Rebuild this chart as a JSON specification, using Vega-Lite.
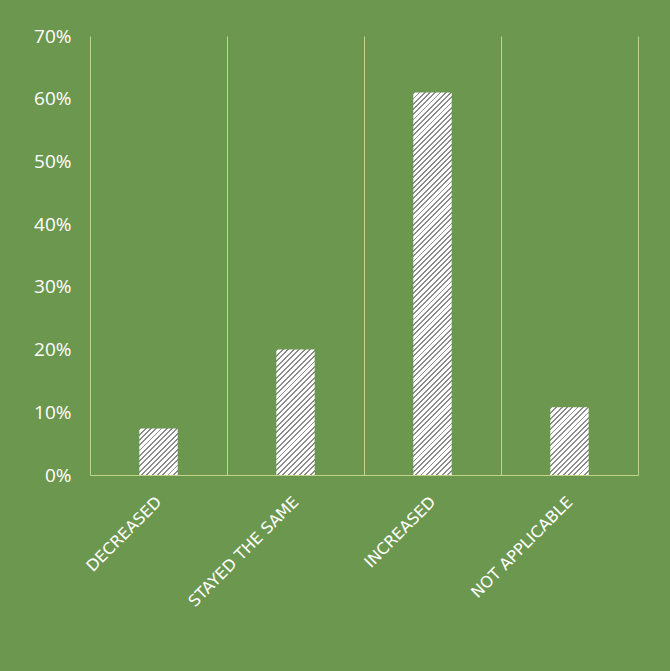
{
  "$schema": "https://vega.github.io/schema/vega-lite/v6.json",
  "width": 548,
  "height": 439,
  "autosize": {"type": "none"},
  "padding": {"left": 90, "top": 36, "right": 32, "bottom": 196},
  "background": "#6c974f",
  "config": {"view": {"stroke": null}, "font": "Open Sans"},
  "data": {
    "values": [
      {"answer": "DECREASED", "share": 0.074},
      {"answer": "STAYED THE SAME", "share": 0.2},
      {"answer": "INCREASED", "share": 0.61},
      {"answer": "NOT APPLICABLE", "share": 0.108}
    ]
  },
  "encoding": {
    "x": {
      "field": "answer",
      "type": "nominal",
      "scale": {
        "domain": ["DECREASED", "STAYED THE SAME", "INCREASED", "NOT APPLICABLE"],
        "paddingInner": 0,
        "paddingOuter": 0
      },
      "axis": {
        "title": null,
        "grid": true,
        "tickBand": "extent",
        "gridColor": "#c3d48a",
        "gridWidth": 1,
        "domainColor": "#c3d48a",
        "domainWidth": 1,
        "ticks": false,
        "labelAngle": -45,
        "labelAlign": "right",
        "labelBaseline": "middle",
        "labelPadding": 24,
        "labelColor": "#ffffff",
        "labelFont": "DejaVu Sans",
        "labelFontSize": 16,
        "labelFontWeight": "normal",
        "labelLimit": 0
      }
    },
    "y": {
      "field": "share",
      "type": "quantitative",
      "scale": {"domain": [0, 0.7]},
      "axis": {
        "title": null,
        "values": [0, 0.1, 0.2, 0.3, 0.4, 0.5, 0.6, 0.7],
        "format": ".0%",
        "grid": false,
        "domain": false,
        "ticks": false,
        "labelFlush": false,
        "labelColor": "#ffffff",
        "labelFont": "Open Sans",
        "labelFontSize": 19,
        "labelPadding": 19
      }
    }
  },
  "layer": [
    {
      "transform": [{"filter": "datum.answer === 'DECREASED'"}],
      "mark": {
        "type": "bar",
        "width": {"band": 0.28},
        "fill": {
          "gradient": "linear", "x1": 0, "y1": 0, "x2": 0.897, "y2": 1.0852,
          "stops": [
            {"offset": 0, "color": "#8c8c8c"}, {"offset": 0.0219, "color": "#8c8c8c"}, {"offset": 0.0219, "color": "#fff"}, {"offset": 0.0625, "color": "#fff"},
            {"offset": 0.0625, "color": "#8c8c8c"}, {"offset": 0.0844, "color": "#8c8c8c"}, {"offset": 0.0844, "color": "#fff"}, {"offset": 0.125, "color": "#fff"},
            {"offset": 0.125, "color": "#8c8c8c"}, {"offset": 0.1469, "color": "#8c8c8c"}, {"offset": 0.1469, "color": "#fff"}, {"offset": 0.1875, "color": "#fff"},
            {"offset": 0.1875, "color": "#8c8c8c"}, {"offset": 0.2094, "color": "#8c8c8c"}, {"offset": 0.2094, "color": "#fff"}, {"offset": 0.25, "color": "#fff"},
            {"offset": 0.25, "color": "#8c8c8c"}, {"offset": 0.2719, "color": "#8c8c8c"}, {"offset": 0.2719, "color": "#fff"}, {"offset": 0.3125, "color": "#fff"},
            {"offset": 0.3125, "color": "#8c8c8c"}, {"offset": 0.3344, "color": "#8c8c8c"}, {"offset": 0.3344, "color": "#fff"}, {"offset": 0.375, "color": "#fff"},
            {"offset": 0.375, "color": "#8c8c8c"}, {"offset": 0.3969, "color": "#8c8c8c"}, {"offset": 0.3969, "color": "#fff"}, {"offset": 0.4375, "color": "#fff"},
            {"offset": 0.4375, "color": "#8c8c8c"}, {"offset": 0.4594, "color": "#8c8c8c"}, {"offset": 0.4594, "color": "#fff"}, {"offset": 0.5, "color": "#fff"},
            {"offset": 0.5, "color": "#8c8c8c"}, {"offset": 0.5219, "color": "#8c8c8c"}, {"offset": 0.5219, "color": "#fff"}, {"offset": 0.5625, "color": "#fff"},
            {"offset": 0.5625, "color": "#8c8c8c"}, {"offset": 0.5844, "color": "#8c8c8c"}, {"offset": 0.5844, "color": "#fff"}, {"offset": 0.625, "color": "#fff"},
            {"offset": 0.625, "color": "#8c8c8c"}, {"offset": 0.6469, "color": "#8c8c8c"}, {"offset": 0.6469, "color": "#fff"}, {"offset": 0.6875, "color": "#fff"},
            {"offset": 0.6875, "color": "#8c8c8c"}, {"offset": 0.7094, "color": "#8c8c8c"}, {"offset": 0.7094, "color": "#fff"}, {"offset": 0.75, "color": "#fff"},
            {"offset": 0.75, "color": "#8c8c8c"}, {"offset": 0.7719, "color": "#8c8c8c"}, {"offset": 0.7719, "color": "#fff"}, {"offset": 0.8125, "color": "#fff"},
            {"offset": 0.8125, "color": "#8c8c8c"}, {"offset": 0.8344, "color": "#8c8c8c"}, {"offset": 0.8344, "color": "#fff"}, {"offset": 0.875, "color": "#fff"},
            {"offset": 0.875, "color": "#8c8c8c"}, {"offset": 0.8969, "color": "#8c8c8c"}, {"offset": 0.8969, "color": "#fff"}, {"offset": 0.9375, "color": "#fff"},
            {"offset": 0.9375, "color": "#8c8c8c"}, {"offset": 0.9594, "color": "#8c8c8c"}, {"offset": 0.9594, "color": "#fff"}, {"offset": 1, "color": "#fff"}
          ]
        }
      }
    },
    {
      "transform": [{"filter": "datum.answer === 'STAYED THE SAME'"}],
      "mark": {
        "type": "bar",
        "width": {"band": 0.28},
        "fill": {
          "gradient": "linear", "x1": 0, "y1": 0, "x2": 0.3652, "y2": 1.1941,
          "stops": [
            {"offset": 0, "color": "#8c8c8c"}, {"offset": 0.0117, "color": "#8c8c8c"}, {"offset": 0.0117, "color": "#fff"}, {"offset": 0.0333, "color": "#fff"},
            {"offset": 0.0333, "color": "#8c8c8c"}, {"offset": 0.045, "color": "#8c8c8c"}, {"offset": 0.045, "color": "#fff"}, {"offset": 0.0667, "color": "#fff"},
            {"offset": 0.0667, "color": "#8c8c8c"}, {"offset": 0.0783, "color": "#8c8c8c"}, {"offset": 0.0783, "color": "#fff"}, {"offset": 0.1, "color": "#fff"},
            {"offset": 0.1, "color": "#8c8c8c"}, {"offset": 0.1117, "color": "#8c8c8c"}, {"offset": 0.1117, "color": "#fff"}, {"offset": 0.1333, "color": "#fff"},
            {"offset": 0.1333, "color": "#8c8c8c"}, {"offset": 0.145, "color": "#8c8c8c"}, {"offset": 0.145, "color": "#fff"}, {"offset": 0.1667, "color": "#fff"},
            {"offset": 0.1667, "color": "#8c8c8c"}, {"offset": 0.1783, "color": "#8c8c8c"}, {"offset": 0.1783, "color": "#fff"}, {"offset": 0.2, "color": "#fff"},
            {"offset": 0.2, "color": "#8c8c8c"}, {"offset": 0.2117, "color": "#8c8c8c"}, {"offset": 0.2117, "color": "#fff"}, {"offset": 0.2333, "color": "#fff"},
            {"offset": 0.2333, "color": "#8c8c8c"}, {"offset": 0.245, "color": "#8c8c8c"}, {"offset": 0.245, "color": "#fff"}, {"offset": 0.2667, "color": "#fff"},
            {"offset": 0.2667, "color": "#8c8c8c"}, {"offset": 0.2783, "color": "#8c8c8c"}, {"offset": 0.2783, "color": "#fff"}, {"offset": 0.3, "color": "#fff"},
            {"offset": 0.3, "color": "#8c8c8c"}, {"offset": 0.3117, "color": "#8c8c8c"}, {"offset": 0.3117, "color": "#fff"}, {"offset": 0.3333, "color": "#fff"},
            {"offset": 0.3333, "color": "#8c8c8c"}, {"offset": 0.345, "color": "#8c8c8c"}, {"offset": 0.345, "color": "#fff"}, {"offset": 0.3667, "color": "#fff"},
            {"offset": 0.3667, "color": "#8c8c8c"}, {"offset": 0.3783, "color": "#8c8c8c"}, {"offset": 0.3783, "color": "#fff"}, {"offset": 0.4, "color": "#fff"},
            {"offset": 0.4, "color": "#8c8c8c"}, {"offset": 0.4117, "color": "#8c8c8c"}, {"offset": 0.4117, "color": "#fff"}, {"offset": 0.4333, "color": "#fff"},
            {"offset": 0.4333, "color": "#8c8c8c"}, {"offset": 0.445, "color": "#8c8c8c"}, {"offset": 0.445, "color": "#fff"}, {"offset": 0.4667, "color": "#fff"},
            {"offset": 0.4667, "color": "#8c8c8c"}, {"offset": 0.4783, "color": "#8c8c8c"}, {"offset": 0.4783, "color": "#fff"}, {"offset": 0.5, "color": "#fff"},
            {"offset": 0.5, "color": "#8c8c8c"}, {"offset": 0.5117, "color": "#8c8c8c"}, {"offset": 0.5117, "color": "#fff"}, {"offset": 0.5333, "color": "#fff"},
            {"offset": 0.5333, "color": "#8c8c8c"}, {"offset": 0.545, "color": "#8c8c8c"}, {"offset": 0.545, "color": "#fff"}, {"offset": 0.5667, "color": "#fff"},
            {"offset": 0.5667, "color": "#8c8c8c"}, {"offset": 0.5783, "color": "#8c8c8c"}, {"offset": 0.5783, "color": "#fff"}, {"offset": 0.6, "color": "#fff"},
            {"offset": 0.6, "color": "#8c8c8c"}, {"offset": 0.6117, "color": "#8c8c8c"}, {"offset": 0.6117, "color": "#fff"}, {"offset": 0.6333, "color": "#fff"},
            {"offset": 0.6333, "color": "#8c8c8c"}, {"offset": 0.645, "color": "#8c8c8c"}, {"offset": 0.645, "color": "#fff"}, {"offset": 0.6667, "color": "#fff"},
            {"offset": 0.6667, "color": "#8c8c8c"}, {"offset": 0.6783, "color": "#8c8c8c"}, {"offset": 0.6783, "color": "#fff"}, {"offset": 0.7, "color": "#fff"},
            {"offset": 0.7, "color": "#8c8c8c"}, {"offset": 0.7117, "color": "#8c8c8c"}, {"offset": 0.7117, "color": "#fff"}, {"offset": 0.7333, "color": "#fff"},
            {"offset": 0.7333, "color": "#8c8c8c"}, {"offset": 0.745, "color": "#8c8c8c"}, {"offset": 0.745, "color": "#fff"}, {"offset": 0.7667, "color": "#fff"},
            {"offset": 0.7667, "color": "#8c8c8c"}, {"offset": 0.7783, "color": "#8c8c8c"}, {"offset": 0.7783, "color": "#fff"}, {"offset": 0.8, "color": "#fff"},
            {"offset": 0.8, "color": "#8c8c8c"}, {"offset": 0.8117, "color": "#8c8c8c"}, {"offset": 0.8117, "color": "#fff"}, {"offset": 0.8333, "color": "#fff"},
            {"offset": 0.8333, "color": "#8c8c8c"}, {"offset": 0.845, "color": "#8c8c8c"}, {"offset": 0.845, "color": "#fff"}, {"offset": 0.8667, "color": "#fff"},
            {"offset": 0.8667, "color": "#8c8c8c"}, {"offset": 0.8783, "color": "#8c8c8c"}, {"offset": 0.8783, "color": "#fff"}, {"offset": 0.9, "color": "#fff"},
            {"offset": 0.9, "color": "#8c8c8c"}, {"offset": 0.9117, "color": "#8c8c8c"}, {"offset": 0.9117, "color": "#fff"}, {"offset": 0.9333, "color": "#fff"},
            {"offset": 0.9333, "color": "#8c8c8c"}, {"offset": 0.945, "color": "#8c8c8c"}, {"offset": 0.945, "color": "#fff"}, {"offset": 0.9667, "color": "#fff"},
            {"offset": 0.9667, "color": "#8c8c8c"}, {"offset": 0.9783, "color": "#8c8c8c"}, {"offset": 0.9783, "color": "#fff"}, {"offset": 1, "color": "#fff"}
          ]
        }
      }
    },
    {
      "transform": [{"filter": "datum.answer === 'INCREASED'"}],
      "mark": {
        "type": "bar",
        "width": {"band": 0.28},
        "fill": {
          "gradient": "linear", "x1": 0, "y1": 0, "x2": 0.10923, "y2": 1.08933,
          "stops": [
            {"offset": 0, "color": "#8c8c8c"}, {"offset": 0.0044, "color": "#8c8c8c"}, {"offset": 0.0044, "color": "#fff"}, {"offset": 0.0125, "color": "#fff"},
            {"offset": 0.0125, "color": "#8c8c8c"}, {"offset": 0.0169, "color": "#8c8c8c"}, {"offset": 0.0169, "color": "#fff"}, {"offset": 0.025, "color": "#fff"},
            {"offset": 0.025, "color": "#8c8c8c"}, {"offset": 0.0294, "color": "#8c8c8c"}, {"offset": 0.0294, "color": "#fff"}, {"offset": 0.0375, "color": "#fff"},
            {"offset": 0.0375, "color": "#8c8c8c"}, {"offset": 0.0419, "color": "#8c8c8c"}, {"offset": 0.0419, "color": "#fff"}, {"offset": 0.05, "color": "#fff"},
            {"offset": 0.05, "color": "#8c8c8c"}, {"offset": 0.0544, "color": "#8c8c8c"}, {"offset": 0.0544, "color": "#fff"}, {"offset": 0.0625, "color": "#fff"},
            {"offset": 0.0625, "color": "#8c8c8c"}, {"offset": 0.0669, "color": "#8c8c8c"}, {"offset": 0.0669, "color": "#fff"}, {"offset": 0.075, "color": "#fff"},
            {"offset": 0.075, "color": "#8c8c8c"}, {"offset": 0.0794, "color": "#8c8c8c"}, {"offset": 0.0794, "color": "#fff"}, {"offset": 0.0875, "color": "#fff"},
            {"offset": 0.0875, "color": "#8c8c8c"}, {"offset": 0.0919, "color": "#8c8c8c"}, {"offset": 0.0919, "color": "#fff"}, {"offset": 0.1, "color": "#fff"},
            {"offset": 0.1, "color": "#8c8c8c"}, {"offset": 0.1044, "color": "#8c8c8c"}, {"offset": 0.1044, "color": "#fff"}, {"offset": 0.1125, "color": "#fff"},
            {"offset": 0.1125, "color": "#8c8c8c"}, {"offset": 0.1169, "color": "#8c8c8c"}, {"offset": 0.1169, "color": "#fff"}, {"offset": 0.125, "color": "#fff"},
            {"offset": 0.125, "color": "#8c8c8c"}, {"offset": 0.1294, "color": "#8c8c8c"}, {"offset": 0.1294, "color": "#fff"}, {"offset": 0.1375, "color": "#fff"},
            {"offset": 0.1375, "color": "#8c8c8c"}, {"offset": 0.1419, "color": "#8c8c8c"}, {"offset": 0.1419, "color": "#fff"}, {"offset": 0.15, "color": "#fff"},
            {"offset": 0.15, "color": "#8c8c8c"}, {"offset": 0.1544, "color": "#8c8c8c"}, {"offset": 0.1544, "color": "#fff"}, {"offset": 0.1625, "color": "#fff"},
            {"offset": 0.1625, "color": "#8c8c8c"}, {"offset": 0.1669, "color": "#8c8c8c"}, {"offset": 0.1669, "color": "#fff"}, {"offset": 0.175, "color": "#fff"},
            {"offset": 0.175, "color": "#8c8c8c"}, {"offset": 0.1794, "color": "#8c8c8c"}, {"offset": 0.1794, "color": "#fff"}, {"offset": 0.1875, "color": "#fff"},
            {"offset": 0.1875, "color": "#8c8c8c"}, {"offset": 0.1919, "color": "#8c8c8c"}, {"offset": 0.1919, "color": "#fff"}, {"offset": 0.2, "color": "#fff"},
            {"offset": 0.2, "color": "#8c8c8c"}, {"offset": 0.2044, "color": "#8c8c8c"}, {"offset": 0.2044, "color": "#fff"}, {"offset": 0.2125, "color": "#fff"},
            {"offset": 0.2125, "color": "#8c8c8c"}, {"offset": 0.2169, "color": "#8c8c8c"}, {"offset": 0.2169, "color": "#fff"}, {"offset": 0.225, "color": "#fff"},
            {"offset": 0.225, "color": "#8c8c8c"}, {"offset": 0.2294, "color": "#8c8c8c"}, {"offset": 0.2294, "color": "#fff"}, {"offset": 0.2375, "color": "#fff"},
            {"offset": 0.2375, "color": "#8c8c8c"}, {"offset": 0.2419, "color": "#8c8c8c"}, {"offset": 0.2419, "color": "#fff"}, {"offset": 0.25, "color": "#fff"},
            {"offset": 0.25, "color": "#8c8c8c"}, {"offset": 0.2544, "color": "#8c8c8c"}, {"offset": 0.2544, "color": "#fff"}, {"offset": 0.2625, "color": "#fff"},
            {"offset": 0.2625, "color": "#8c8c8c"}, {"offset": 0.2669, "color": "#8c8c8c"}, {"offset": 0.2669, "color": "#fff"}, {"offset": 0.275, "color": "#fff"},
            {"offset": 0.275, "color": "#8c8c8c"}, {"offset": 0.2794, "color": "#8c8c8c"}, {"offset": 0.2794, "color": "#fff"}, {"offset": 0.2875, "color": "#fff"},
            {"offset": 0.2875, "color": "#8c8c8c"}, {"offset": 0.2919, "color": "#8c8c8c"}, {"offset": 0.2919, "color": "#fff"}, {"offset": 0.3, "color": "#fff"},
            {"offset": 0.3, "color": "#8c8c8c"}, {"offset": 0.3044, "color": "#8c8c8c"}, {"offset": 0.3044, "color": "#fff"}, {"offset": 0.3125, "color": "#fff"},
            {"offset": 0.3125, "color": "#8c8c8c"}, {"offset": 0.3169, "color": "#8c8c8c"}, {"offset": 0.3169, "color": "#fff"}, {"offset": 0.325, "color": "#fff"},
            {"offset": 0.325, "color": "#8c8c8c"}, {"offset": 0.3294, "color": "#8c8c8c"}, {"offset": 0.3294, "color": "#fff"}, {"offset": 0.3375, "color": "#fff"},
            {"offset": 0.3375, "color": "#8c8c8c"}, {"offset": 0.3419, "color": "#8c8c8c"}, {"offset": 0.3419, "color": "#fff"}, {"offset": 0.35, "color": "#fff"},
            {"offset": 0.35, "color": "#8c8c8c"}, {"offset": 0.3544, "color": "#8c8c8c"}, {"offset": 0.3544, "color": "#fff"}, {"offset": 0.3625, "color": "#fff"},
            {"offset": 0.3625, "color": "#8c8c8c"}, {"offset": 0.3669, "color": "#8c8c8c"}, {"offset": 0.3669, "color": "#fff"}, {"offset": 0.375, "color": "#fff"},
            {"offset": 0.375, "color": "#8c8c8c"}, {"offset": 0.3794, "color": "#8c8c8c"}, {"offset": 0.3794, "color": "#fff"}, {"offset": 0.3875, "color": "#fff"},
            {"offset": 0.3875, "color": "#8c8c8c"}, {"offset": 0.3919, "color": "#8c8c8c"}, {"offset": 0.3919, "color": "#fff"}, {"offset": 0.4, "color": "#fff"},
            {"offset": 0.4, "color": "#8c8c8c"}, {"offset": 0.4044, "color": "#8c8c8c"}, {"offset": 0.4044, "color": "#fff"}, {"offset": 0.4125, "color": "#fff"},
            {"offset": 0.4125, "color": "#8c8c8c"}, {"offset": 0.4169, "color": "#8c8c8c"}, {"offset": 0.4169, "color": "#fff"}, {"offset": 0.425, "color": "#fff"},
            {"offset": 0.425, "color": "#8c8c8c"}, {"offset": 0.4294, "color": "#8c8c8c"}, {"offset": 0.4294, "color": "#fff"}, {"offset": 0.4375, "color": "#fff"},
            {"offset": 0.4375, "color": "#8c8c8c"}, {"offset": 0.4419, "color": "#8c8c8c"}, {"offset": 0.4419, "color": "#fff"}, {"offset": 0.45, "color": "#fff"},
            {"offset": 0.45, "color": "#8c8c8c"}, {"offset": 0.4544, "color": "#8c8c8c"}, {"offset": 0.4544, "color": "#fff"}, {"offset": 0.4625, "color": "#fff"},
            {"offset": 0.4625, "color": "#8c8c8c"}, {"offset": 0.4669, "color": "#8c8c8c"}, {"offset": 0.4669, "color": "#fff"}, {"offset": 0.475, "color": "#fff"},
            {"offset": 0.475, "color": "#8c8c8c"}, {"offset": 0.4794, "color": "#8c8c8c"}, {"offset": 0.4794, "color": "#fff"}, {"offset": 0.4875, "color": "#fff"},
            {"offset": 0.4875, "color": "#8c8c8c"}, {"offset": 0.4919, "color": "#8c8c8c"}, {"offset": 0.4919, "color": "#fff"}, {"offset": 0.5, "color": "#fff"},
            {"offset": 0.5, "color": "#8c8c8c"}, {"offset": 0.5044, "color": "#8c8c8c"}, {"offset": 0.5044, "color": "#fff"}, {"offset": 0.5125, "color": "#fff"},
            {"offset": 0.5125, "color": "#8c8c8c"}, {"offset": 0.5169, "color": "#8c8c8c"}, {"offset": 0.5169, "color": "#fff"}, {"offset": 0.525, "color": "#fff"},
            {"offset": 0.525, "color": "#8c8c8c"}, {"offset": 0.5294, "color": "#8c8c8c"}, {"offset": 0.5294, "color": "#fff"}, {"offset": 0.5375, "color": "#fff"},
            {"offset": 0.5375, "color": "#8c8c8c"}, {"offset": 0.5419, "color": "#8c8c8c"}, {"offset": 0.5419, "color": "#fff"}, {"offset": 0.55, "color": "#fff"},
            {"offset": 0.55, "color": "#8c8c8c"}, {"offset": 0.5544, "color": "#8c8c8c"}, {"offset": 0.5544, "color": "#fff"}, {"offset": 0.5625, "color": "#fff"},
            {"offset": 0.5625, "color": "#8c8c8c"}, {"offset": 0.5669, "color": "#8c8c8c"}, {"offset": 0.5669, "color": "#fff"}, {"offset": 0.575, "color": "#fff"},
            {"offset": 0.575, "color": "#8c8c8c"}, {"offset": 0.5794, "color": "#8c8c8c"}, {"offset": 0.5794, "color": "#fff"}, {"offset": 0.5875, "color": "#fff"},
            {"offset": 0.5875, "color": "#8c8c8c"}, {"offset": 0.5919, "color": "#8c8c8c"}, {"offset": 0.5919, "color": "#fff"}, {"offset": 0.6, "color": "#fff"},
            {"offset": 0.6, "color": "#8c8c8c"}, {"offset": 0.6044, "color": "#8c8c8c"}, {"offset": 0.6044, "color": "#fff"}, {"offset": 0.6125, "color": "#fff"},
            {"offset": 0.6125, "color": "#8c8c8c"}, {"offset": 0.6169, "color": "#8c8c8c"}, {"offset": 0.6169, "color": "#fff"}, {"offset": 0.625, "color": "#fff"},
            {"offset": 0.625, "color": "#8c8c8c"}, {"offset": 0.6294, "color": "#8c8c8c"}, {"offset": 0.6294, "color": "#fff"}, {"offset": 0.6375, "color": "#fff"},
            {"offset": 0.6375, "color": "#8c8c8c"}, {"offset": 0.6419, "color": "#8c8c8c"}, {"offset": 0.6419, "color": "#fff"}, {"offset": 0.65, "color": "#fff"},
            {"offset": 0.65, "color": "#8c8c8c"}, {"offset": 0.6544, "color": "#8c8c8c"}, {"offset": 0.6544, "color": "#fff"}, {"offset": 0.6625, "color": "#fff"},
            {"offset": 0.6625, "color": "#8c8c8c"}, {"offset": 0.6669, "color": "#8c8c8c"}, {"offset": 0.6669, "color": "#fff"}, {"offset": 0.675, "color": "#fff"},
            {"offset": 0.675, "color": "#8c8c8c"}, {"offset": 0.6794, "color": "#8c8c8c"}, {"offset": 0.6794, "color": "#fff"}, {"offset": 0.6875, "color": "#fff"},
            {"offset": 0.6875, "color": "#8c8c8c"}, {"offset": 0.6919, "color": "#8c8c8c"}, {"offset": 0.6919, "color": "#fff"}, {"offset": 0.7, "color": "#fff"},
            {"offset": 0.7, "color": "#8c8c8c"}, {"offset": 0.7044, "color": "#8c8c8c"}, {"offset": 0.7044, "color": "#fff"}, {"offset": 0.7125, "color": "#fff"},
            {"offset": 0.7125, "color": "#8c8c8c"}, {"offset": 0.7169, "color": "#8c8c8c"}, {"offset": 0.7169, "color": "#fff"}, {"offset": 0.725, "color": "#fff"},
            {"offset": 0.725, "color": "#8c8c8c"}, {"offset": 0.7294, "color": "#8c8c8c"}, {"offset": 0.7294, "color": "#fff"}, {"offset": 0.7375, "color": "#fff"},
            {"offset": 0.7375, "color": "#8c8c8c"}, {"offset": 0.7419, "color": "#8c8c8c"}, {"offset": 0.7419, "color": "#fff"}, {"offset": 0.75, "color": "#fff"},
            {"offset": 0.75, "color": "#8c8c8c"}, {"offset": 0.7544, "color": "#8c8c8c"}, {"offset": 0.7544, "color": "#fff"}, {"offset": 0.7625, "color": "#fff"},
            {"offset": 0.7625, "color": "#8c8c8c"}, {"offset": 0.7669, "color": "#8c8c8c"}, {"offset": 0.7669, "color": "#fff"}, {"offset": 0.775, "color": "#fff"},
            {"offset": 0.775, "color": "#8c8c8c"}, {"offset": 0.7794, "color": "#8c8c8c"}, {"offset": 0.7794, "color": "#fff"}, {"offset": 0.7875, "color": "#fff"},
            {"offset": 0.7875, "color": "#8c8c8c"}, {"offset": 0.7919, "color": "#8c8c8c"}, {"offset": 0.7919, "color": "#fff"}, {"offset": 0.8, "color": "#fff"},
            {"offset": 0.8, "color": "#8c8c8c"}, {"offset": 0.8044, "color": "#8c8c8c"}, {"offset": 0.8044, "color": "#fff"}, {"offset": 0.8125, "color": "#fff"},
            {"offset": 0.8125, "color": "#8c8c8c"}, {"offset": 0.8169, "color": "#8c8c8c"}, {"offset": 0.8169, "color": "#fff"}, {"offset": 0.825, "color": "#fff"},
            {"offset": 0.825, "color": "#8c8c8c"}, {"offset": 0.8294, "color": "#8c8c8c"}, {"offset": 0.8294, "color": "#fff"}, {"offset": 0.8375, "color": "#fff"},
            {"offset": 0.8375, "color": "#8c8c8c"}, {"offset": 0.8419, "color": "#8c8c8c"}, {"offset": 0.8419, "color": "#fff"}, {"offset": 0.85, "color": "#fff"},
            {"offset": 0.85, "color": "#8c8c8c"}, {"offset": 0.8544, "color": "#8c8c8c"}, {"offset": 0.8544, "color": "#fff"}, {"offset": 0.8625, "color": "#fff"},
            {"offset": 0.8625, "color": "#8c8c8c"}, {"offset": 0.8669, "color": "#8c8c8c"}, {"offset": 0.8669, "color": "#fff"}, {"offset": 0.875, "color": "#fff"},
            {"offset": 0.875, "color": "#8c8c8c"}, {"offset": 0.8794, "color": "#8c8c8c"}, {"offset": 0.8794, "color": "#fff"}, {"offset": 0.8875, "color": "#fff"},
            {"offset": 0.8875, "color": "#8c8c8c"}, {"offset": 0.8919, "color": "#8c8c8c"}, {"offset": 0.8919, "color": "#fff"}, {"offset": 0.9, "color": "#fff"},
            {"offset": 0.9, "color": "#8c8c8c"}, {"offset": 0.9044, "color": "#8c8c8c"}, {"offset": 0.9044, "color": "#fff"}, {"offset": 0.9125, "color": "#fff"},
            {"offset": 0.9125, "color": "#8c8c8c"}, {"offset": 0.9169, "color": "#8c8c8c"}, {"offset": 0.9169, "color": "#fff"}, {"offset": 0.925, "color": "#fff"},
            {"offset": 0.925, "color": "#8c8c8c"}, {"offset": 0.9294, "color": "#8c8c8c"}, {"offset": 0.9294, "color": "#fff"}, {"offset": 0.9375, "color": "#fff"},
            {"offset": 0.9375, "color": "#8c8c8c"}, {"offset": 0.9419, "color": "#8c8c8c"}, {"offset": 0.9419, "color": "#fff"}, {"offset": 0.95, "color": "#fff"},
            {"offset": 0.95, "color": "#8c8c8c"}, {"offset": 0.9544, "color": "#8c8c8c"}, {"offset": 0.9544, "color": "#fff"}, {"offset": 0.9625, "color": "#fff"},
            {"offset": 0.9625, "color": "#8c8c8c"}, {"offset": 0.9669, "color": "#8c8c8c"}, {"offset": 0.9669, "color": "#fff"}, {"offset": 0.975, "color": "#fff"},
            {"offset": 0.975, "color": "#8c8c8c"}, {"offset": 0.9794, "color": "#8c8c8c"}, {"offset": 0.9794, "color": "#fff"}, {"offset": 0.9875, "color": "#fff"},
            {"offset": 0.9875, "color": "#8c8c8c"}, {"offset": 0.9919, "color": "#8c8c8c"}, {"offset": 0.9919, "color": "#fff"}, {"offset": 1, "color": "#fff"}
          ]
        }
      }
    },
    {
      "transform": [{"filter": "datum.answer === 'NOT APPLICABLE'"}],
      "mark": {
        "type": "bar",
        "width": {"band": 0.28},
        "fill": {
          "gradient": "linear", "x1": 0, "y1": 0, "x2": 0.6717, "y2": 1.186,
          "stops": [
            {"offset": 0, "color": "#8c8c8c"}, {"offset": 0.0175, "color": "#8c8c8c"}, {"offset": 0.0175, "color": "#fff"}, {"offset": 0.05, "color": "#fff"},
            {"offset": 0.05, "color": "#8c8c8c"}, {"offset": 0.0675, "color": "#8c8c8c"}, {"offset": 0.0675, "color": "#fff"}, {"offset": 0.1, "color": "#fff"},
            {"offset": 0.1, "color": "#8c8c8c"}, {"offset": 0.1175, "color": "#8c8c8c"}, {"offset": 0.1175, "color": "#fff"}, {"offset": 0.15, "color": "#fff"},
            {"offset": 0.15, "color": "#8c8c8c"}, {"offset": 0.1675, "color": "#8c8c8c"}, {"offset": 0.1675, "color": "#fff"}, {"offset": 0.2, "color": "#fff"},
            {"offset": 0.2, "color": "#8c8c8c"}, {"offset": 0.2175, "color": "#8c8c8c"}, {"offset": 0.2175, "color": "#fff"}, {"offset": 0.25, "color": "#fff"},
            {"offset": 0.25, "color": "#8c8c8c"}, {"offset": 0.2675, "color": "#8c8c8c"}, {"offset": 0.2675, "color": "#fff"}, {"offset": 0.3, "color": "#fff"},
            {"offset": 0.3, "color": "#8c8c8c"}, {"offset": 0.3175, "color": "#8c8c8c"}, {"offset": 0.3175, "color": "#fff"}, {"offset": 0.35, "color": "#fff"},
            {"offset": 0.35, "color": "#8c8c8c"}, {"offset": 0.3675, "color": "#8c8c8c"}, {"offset": 0.3675, "color": "#fff"}, {"offset": 0.4, "color": "#fff"},
            {"offset": 0.4, "color": "#8c8c8c"}, {"offset": 0.4175, "color": "#8c8c8c"}, {"offset": 0.4175, "color": "#fff"}, {"offset": 0.45, "color": "#fff"},
            {"offset": 0.45, "color": "#8c8c8c"}, {"offset": 0.4675, "color": "#8c8c8c"}, {"offset": 0.4675, "color": "#fff"}, {"offset": 0.5, "color": "#fff"},
            {"offset": 0.5, "color": "#8c8c8c"}, {"offset": 0.5175, "color": "#8c8c8c"}, {"offset": 0.5175, "color": "#fff"}, {"offset": 0.55, "color": "#fff"},
            {"offset": 0.55, "color": "#8c8c8c"}, {"offset": 0.5675, "color": "#8c8c8c"}, {"offset": 0.5675, "color": "#fff"}, {"offset": 0.6, "color": "#fff"},
            {"offset": 0.6, "color": "#8c8c8c"}, {"offset": 0.6175, "color": "#8c8c8c"}, {"offset": 0.6175, "color": "#fff"}, {"offset": 0.65, "color": "#fff"},
            {"offset": 0.65, "color": "#8c8c8c"}, {"offset": 0.6675, "color": "#8c8c8c"}, {"offset": 0.6675, "color": "#fff"}, {"offset": 0.7, "color": "#fff"},
            {"offset": 0.7, "color": "#8c8c8c"}, {"offset": 0.7175, "color": "#8c8c8c"}, {"offset": 0.7175, "color": "#fff"}, {"offset": 0.75, "color": "#fff"},
            {"offset": 0.75, "color": "#8c8c8c"}, {"offset": 0.7675, "color": "#8c8c8c"}, {"offset": 0.7675, "color": "#fff"}, {"offset": 0.8, "color": "#fff"},
            {"offset": 0.8, "color": "#8c8c8c"}, {"offset": 0.8175, "color": "#8c8c8c"}, {"offset": 0.8175, "color": "#fff"}, {"offset": 0.85, "color": "#fff"},
            {"offset": 0.85, "color": "#8c8c8c"}, {"offset": 0.8675, "color": "#8c8c8c"}, {"offset": 0.8675, "color": "#fff"}, {"offset": 0.9, "color": "#fff"},
            {"offset": 0.9, "color": "#8c8c8c"}, {"offset": 0.9175, "color": "#8c8c8c"}, {"offset": 0.9175, "color": "#fff"}, {"offset": 0.95, "color": "#fff"},
            {"offset": 0.95, "color": "#8c8c8c"}, {"offset": 0.9675, "color": "#8c8c8c"}, {"offset": 0.9675, "color": "#fff"}, {"offset": 1, "color": "#fff"}
          ]
        }
      }
    }
  ]
}
